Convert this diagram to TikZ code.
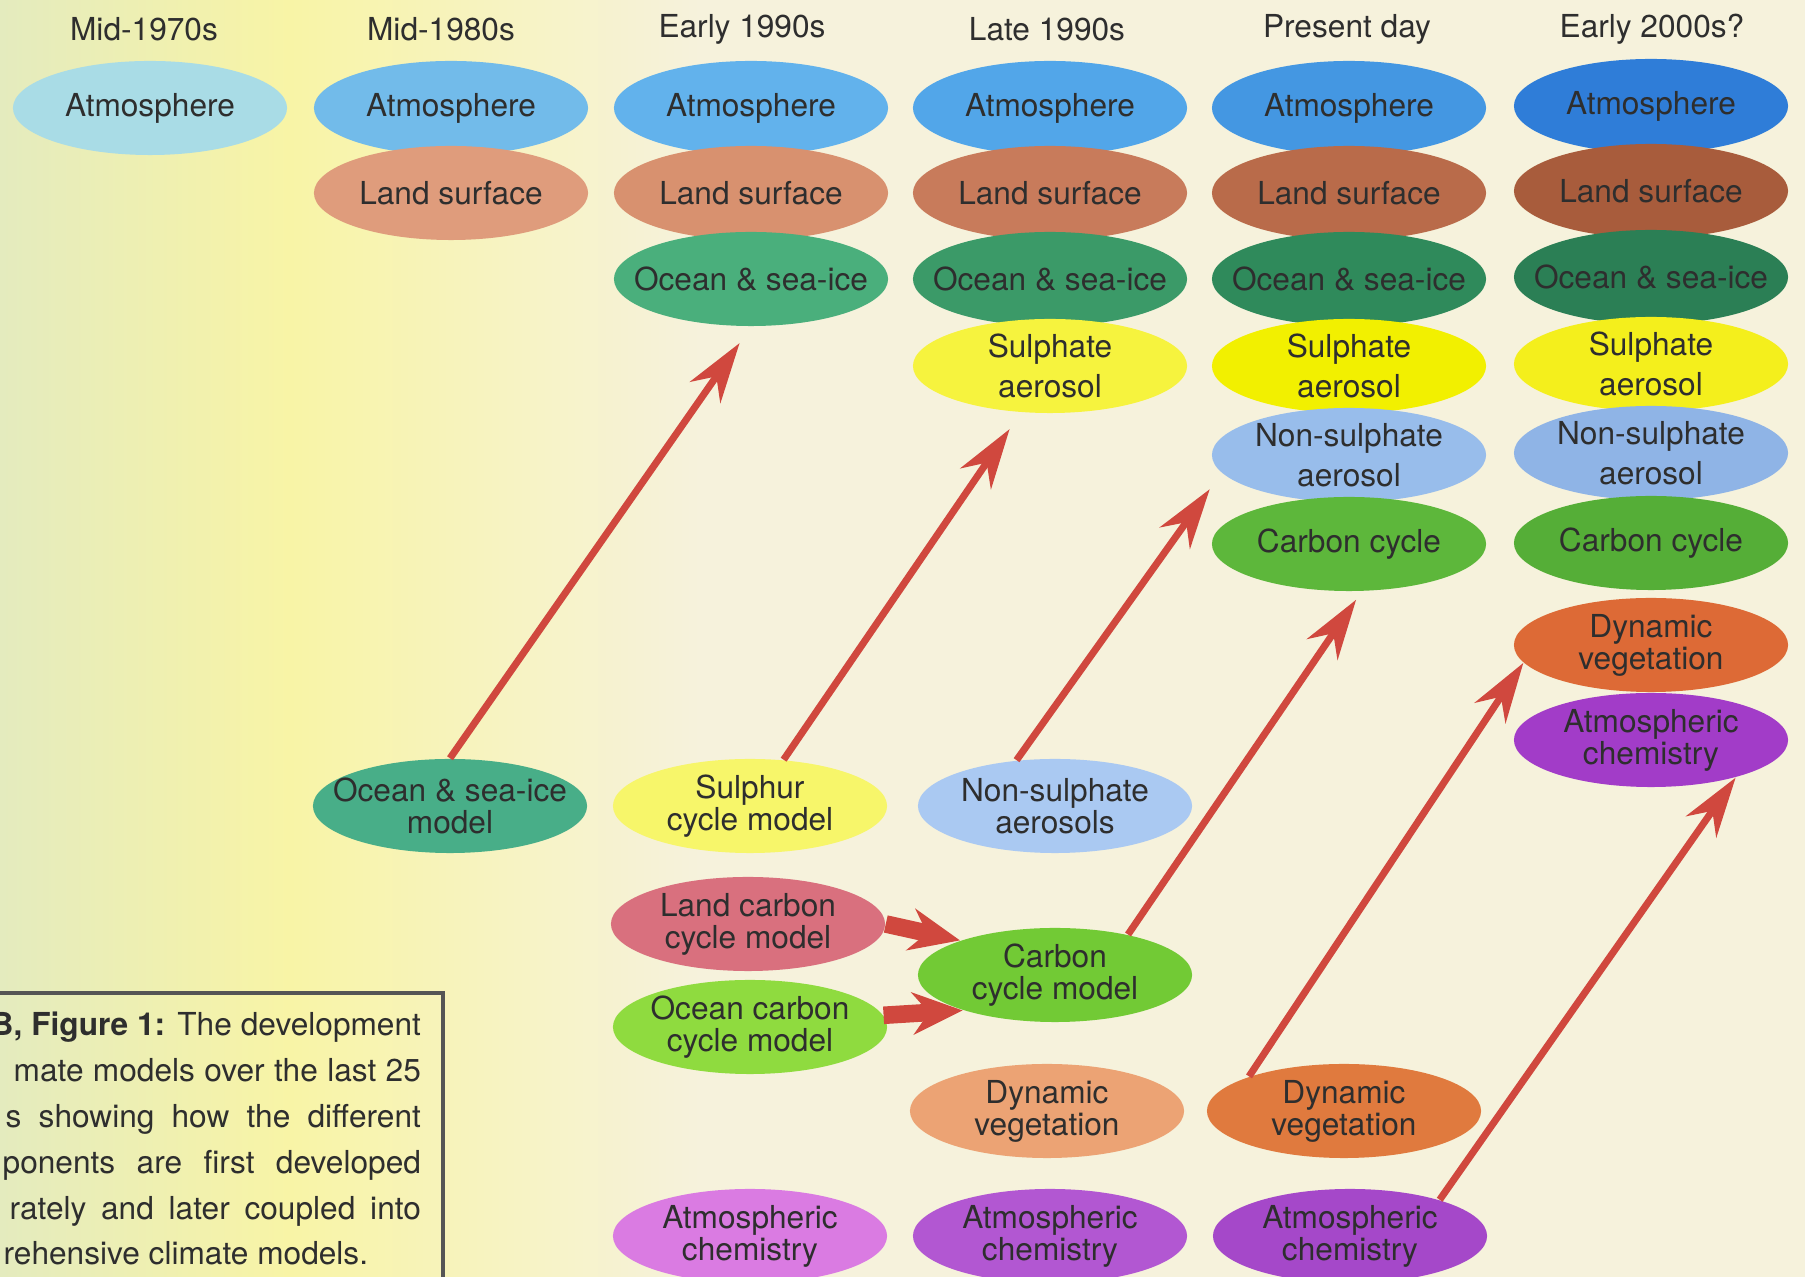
\documentclass[tikz,border=0pt]{standalone}
\usepackage{fontspec}
\setmainfont{TeX Gyre Heros}
\usetikzlibrary{shapes.geometric,arrows.meta}

\definecolor{inkgray}{HTML}{2E2E2E}
\definecolor{arrowred}{HTML}{D0483E}
\definecolor{boxline}{HTML}{555555}
\definecolor{bgleft}{HTML}{E4EBBE}
\definecolor{bgyel}{HTML}{F8F4A6}
\definecolor{bgcream}{HTML}{F6F2DC}
\definecolor{atmA}{HTML}{A9DCE6}
\definecolor{atmB}{HTML}{72BBEA}
\definecolor{atmC}{HTML}{62B2EC}
\definecolor{atmD}{HTML}{52A6E9}
\definecolor{atmE}{HTML}{4497E2}
\definecolor{atmF}{HTML}{2F7DD8}
\definecolor{landB}{HTML}{DF9C7C}
\definecolor{landC}{HTML}{D8916F}
\definecolor{landD}{HTML}{C87B5B}
\definecolor{landE}{HTML}{B96B4A}
\definecolor{landF}{HTML}{A85C3C}
\definecolor{ocnC}{HTML}{4AAF7C}
\definecolor{ocnD}{HTML}{3B9A68}
\definecolor{ocnE}{HTML}{2F8A5B}
\definecolor{ocnF}{HTML}{2B7F55}
\definecolor{sulD}{HTML}{F6F33E}
\definecolor{sulE}{HTML}{F2F000}
\definecolor{sulF}{HTML}{F4EF1C}
\definecolor{nsaE}{HTML}{98BDEB}
\definecolor{nsaF}{HTML}{8FB4E6}
\definecolor{ccE}{HTML}{5DB73B}
\definecolor{ccF}{HTML}{55AE37}
\definecolor{dvF}{HTML}{DD6A36}
\definecolor{acF}{HTML}{A23CC8}
\definecolor{osmod}{HTML}{48AE88}
\definecolor{sulmod}{HTML}{F7F66A}
\definecolor{nsamod}{HTML}{AAC9F2}
\definecolor{lcmod}{HTML}{D9707E}
\definecolor{ocmod}{HTML}{8FDB3F}
\definecolor{ccmod}{HTML}{72CA35}
\definecolor{dvD}{HTML}{ECA374}
\definecolor{dvE}{HTML}{E07A3E}
\definecolor{acC}{HTML}{DA7BE2}
\definecolor{acD}{HTML}{B257D2}
\definecolor{acE}{HTML}{A548C9}

\begin{document}
\begin{tikzpicture}[x=0.01cm,y=-0.01cm,
  comp/.style={ellipse, minimum width=2.74cm, minimum height=0.94cm, inner sep=0pt},
  lbl/.style={align=center, text=inkgray, inner sep=0pt, font=\fontsize{9}{9.1}\selectfont},
  txt/.style={label={[lbl]center:#1}},
  txtw/.style={label={[lbl, font=\fontsize{9}{11.3}\selectfont]center:#1}},
  head/.style={text=inkgray, font=\fontsize{9}{11}\selectfont},
  capt/.style={text=inkgray, inner sep=0pt, anchor=base west, font=\fontsize{9}{11}\selectfont},
  link/.style={draw=arrowred, line width=2pt, -{Stealth[length=0.6cm, width=0.37cm]}},
  feed/.style={draw=arrowred, line width=5pt, -{Stealth[length=0.5cm, width=0.42cm]}}]

\useasboundingbox (0,0) rectangle (1805,1277);
\shade[left color=bgleft, right color=bgyel] (0,0) rectangle (290,1277);
\shade[left color=bgyel, right color=bgcream] (290,0) rectangle (700,1277);
\fill[bgcream] (700,0) rectangle (1805,1277);

\node[head] (hd1) at (144,29) {Mid-1970s};
\node[head] (hd2) at (441,29) {Mid-1980s};
\node[head] (hd3) at (742,29) {Early 1990s};
\node[head] (hd4) at (1047,29) {Late 1990s};
\node[head] (hd5) at (1347,29) {Present day};
\node[head] (hd6) at (1652,29) {Early 2000s?};

\node[comp, fill=atmA, txt=Atmosphere] (atm1) at (150,108) {};

\node[comp, fill=atmB, txt=Atmosphere] (atm2) at (451,108) {};
\node[comp, fill=landB, txt=Land surface] (land2) at (451,193) {};

\node[comp, fill=atmC, txt=Atmosphere] (atm3) at (751,108) {};
\node[comp, fill=landC, txt=Land surface] (land3) at (751,193) {};
\node[comp, fill=ocnC, txt=Ocean \& sea-ice] (ocn3) at (751,279) {};

\node[comp, fill=atmD, txt=Atmosphere] (atm4) at (1050,108) {};
\node[comp, fill=landD, txt=Land surface] (land4) at (1050,193) {};
\node[comp, fill=ocnD, txt=Ocean \& sea-ice] (ocn4) at (1050,279) {};
\node[comp, fill=sulD, txtw={Sulphate\\aerosol}] (sul4) at (1050,366) {};

\node[comp, fill=atmE, txt=Atmosphere] (atm5) at (1349,108) {};
\node[comp, fill=landE, txt=Land surface] (land5) at (1349,193) {};
\node[comp, fill=ocnE, txt=Ocean \& sea-ice] (ocn5) at (1349,279) {};
\node[comp, fill=sulE, txtw={Sulphate\\aerosol}] (sul5) at (1349,366) {};
\node[comp, fill=nsaE, txtw={Non-sulphate\\aerosol}] (nsa5) at (1349,455) {};
\node[comp, fill=ccE, txt=Carbon cycle] (cc5) at (1349,544) {};

\node[comp, fill=atmF, txt=Atmosphere] (atm6) at (1651,106) {};
\node[comp, fill=landF, txt=Land surface] (land6) at (1651,191) {};
\node[comp, fill=ocnF, txt=Ocean \& sea-ice] (ocn6) at (1651,277) {};
\node[comp, fill=sulF, txtw={Sulphate\\aerosol}] (sul6) at (1651,364) {};
\node[comp, fill=nsaF, txtw={Non-sulphate\\aerosol}] (nsa6) at (1651,453) {};
\node[comp, fill=ccF, txt=Carbon cycle] (cc6) at (1651,543) {};
\node[comp, fill=dvF, txt={Dynamic\\vegetation}] (dv6) at (1651,645) {};
\node[comp, fill=acF, txt={Atmospheric\\chemistry}] (ac6) at (1651,740) {};

\node[comp, fill=osmod, txt={Ocean \& sea-ice\\model}] (osim) at (450,806) {};
\node[comp, fill=sulmod, txt={Sulphur\\cycle model}] (sulm) at (750,806) {};
\node[comp, fill=nsamod, txt={Non-sulphate\\aerosols}] (nsam) at (1055,806) {};
\node[comp, fill=lcmod, txt={Land carbon\\cycle model}] (lccm) at (748,924) {};
\node[comp, fill=ccmod, txt={Carbon\\cycle model}] (ccm) at (1055,975) {};
\node[comp, fill=ocmod, txt={Ocean carbon\\cycle model}] (occm) at (750,1027) {};
\node[comp, fill=dvD, txt={Dynamic\\vegetation}] (dv4) at (1047,1111) {};
\node[comp, fill=dvE, txt={Dynamic\\vegetation}] (dv5) at (1344,1111) {};
\node[comp, fill=acC, txt={Atmospheric\\chemistry}] (ac3) at (750,1236) {};
\node[comp, fill=acD, txt={Atmospheric\\chemistry}] (ac4) at (1050,1236) {};
\node[comp, fill=acE, txt={Atmospheric\\chemistry}] (ac5) at (1350,1236) {};

\draw[link, shorten >=0.2cm] (osim.north) -- (ocn3.south);
\draw[link, shorten >=0.2cm] (sulm.54) -- (sul4.238);
\draw[link, shorten >=0.2cm] (nsam.130) -- (nsa5.188);
\draw[link, shorten >=0.1cm] (ccm.29) -- (cc5.285);
\draw[link] (dv5.160) -- (dv6.188);
\draw[link] (ac5.22) -- (ac6.336);
\draw[feed] (lccm.east) -- (ccm.160);
\draw[feed] (occm.5) -- (ccm.201);

\draw[boxline, line width=0.9pt] (0,993) -- (443,993) -- (443,1277);
\node[capt] (cap1) at (-10,1036) {\makebox[4.30cm][s]{\textbf{B, Figure 1:} The development}};
\node[capt] (cap2) at (13,1082) {\makebox[4.07cm][s]{mate models over the last 25}};
\node[capt] (cap3) at (5,1128) {\makebox[4.15cm][s]{s showing how the different}};
\node[capt] (cap4) at (2,1174) {\makebox[4.18cm][s]{ponents are first developed}};
\node[capt] (cap5) at (9,1220) {\makebox[4.11cm][s]{rately and later coupled into}};
\node[capt] (cap6) at (3,1265) {rehensive climate models.};
\end{tikzpicture}
\end{document}
